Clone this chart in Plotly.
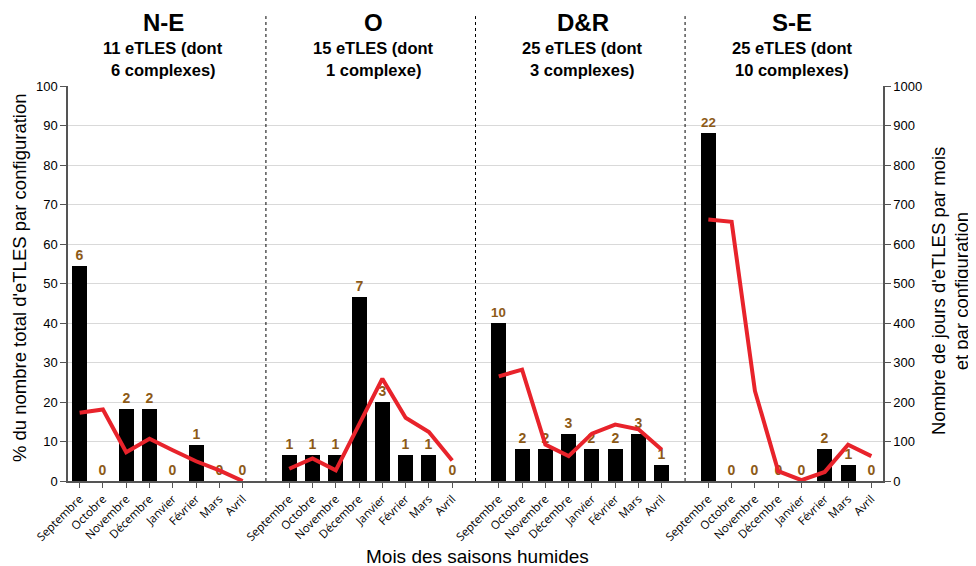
import plotly.graph_objects as go

# ---- data ----
months = ['Septembre', 'Octobre', 'Novembre', 'Décembre', 'Janvier', 'Février', 'Mars', 'Avril']
configs = ['N-E', 'O', 'D&R', 'S-E']
subtitles = [
    ('11 eTLES (dont', '6 complexes)'),
    ('15 eTLES (dont', '1 complexe)'),
    ('25 eTLES (dont', '3 complexes)'),
    ('25 eTLES (dont', '10 complexes)'),
]

# number of eTLES per month (bar labels)
counts_ne = [6, 0, 2, 2, 0, 1, 0, 0]
counts_o = [1, 1, 1, 7, 3, 1, 1, 0]
counts_dr = [10, 2, 2, 3, 2, 2, 3, 1]
counts_se = [22, 0, 0, 0, 0, 2, 1, 0]

# % of total eTLES per configuration (bars, left axis)
pct_ne = [54.5, 0, 18.2, 18.2, 0, 9.1, 0, 0]
pct_o = [6.7, 6.7, 6.7, 46.7, 20.0, 6.7, 6.7, 0]
pct_dr = [40, 8, 8, 12, 8, 8, 12, 4]
pct_se = [88, 0, 0, 0, 0, 8, 4, 0]

# days of eTLES per month (red line, right axis)
days_ne = [173, 181, 73, 107, 78, 50, 27, 0]
days_o = [31, 57, 27, 145, 259, 160, 124, 52]
days_dr = [265, 282, 92, 63, 120, 143, 131, 79]
days_se = [662, 656, 228, 25, 2, 23, 92, 63]

counts = [counts_ne, counts_o, counts_dr, counts_se]
pcts = [pct_ne, pct_o, pct_dr, pct_se]
days = [days_ne, days_o, days_dr, days_se]

BROWN = '#8d5a17'
RED = '#e8232b'
FONT = 'Liberation Sans'
step = len(months) + 1  # one blank slot between configurations


def label(x, y, text, size, xref='x', angle=0):
    fig.add_annotation(x=x, y=y, xref=xref, yref='paper', text=text, textangle=angle,
                       showarrow=False, xanchor='center', yanchor='middle',
                       font=dict(size=size, color='black', family=FONT))


fig = go.Figure()
tickvals, ticktext = [], []
for p in range(len(configs)):
    xs = [p * step + i for i in range(len(months))]
    tickvals += xs
    ticktext += months
    fig.add_trace(go.Bar(
        x=xs, y=pcts[p], text=counts[p], width=0.64,
        marker=dict(color='black', line=dict(width=0)),
        textposition='outside', cliponaxis=False,
        textfont=dict(color=BROWN, size=14, family=FONT, weight='bold'),
        showlegend=False, yaxis='y'))
    fig.add_trace(go.Scatter(
        x=xs, y=days[p], mode='lines', line=dict(color=RED, width=4),
        showlegend=False, yaxis='y2'))

    # dotted separator
    if p > 0:
        fig.add_shape(type='line', xref='x', yref='paper', x0=p * step - 1, x1=p * step - 1,
                      y0=0, y1=1.177, line=dict(color='black', width=1, dash='dot'))

    cx = p * step + 3.6
    label(cx, 1.162, '<b>%s</b>' % configs[p], 24)
    label(cx, 1.096, '<b>%s</b>' % subtitles[p][0], 16.5)
    label(cx, 1.040, '<b>%s</b>' % subtitles[p][1], 16.5)

# axis titles
label(-0.0595, 0.515, "% du nombre total d'eTLES par configuration", 18.5, xref='paper', angle=-90)
label(1.0675, 0.481, "Nombre de jours d'eTLES par mois", 18.5, xref='paper', angle=-90)
label(1.0960, 0.481, "et par configuration", 18.5, xref='paper', angle=-90)
label(0.503, -0.19, 'Mois des saisons humides', 19, xref='paper')

# page body has an 8px default margin, so shift the plot area back by 8px
fig.update_layout(
    width=976, height=566,
    margin=dict(l=60, r=101, t=78, b=93),
    plot_bgcolor='white', paper_bgcolor='white',
    font=dict(family=FONT, color='black'),
    bargap=0,
    xaxis=dict(
        range=[-0.5, len(configs) * step - 1.5], automargin=False,
        tickvals=tickvals, ticktext=ticktext, tickangle=-45,
        tickfont=dict(size=11.5, family='Open Sans'),
        ticks='outside', ticklen=5, tickcolor='#555',
        showline=True, linecolor='#555', linewidth=1.5,
        showgrid=False, zeroline=False,
    ),
    yaxis=dict(
        range=[0, 100], dtick=10, automargin=False,
        ticks='outside', ticklen=6, tickcolor='#555',
        showline=True, linecolor='#555', linewidth=1.5,
        showgrid=True, gridcolor='#d9d9d9', zeroline=False,
        tickfont=dict(size=13),
    ),
    yaxis2=dict(
        range=[0, 1000], dtick=100, overlaying='y', side='right', automargin=False,
        ticks='outside', ticklen=6, tickcolor='#555',
        showline=True, linecolor='#555', linewidth=1.5,
        showgrid=False, zeroline=False,
        tickfont=dict(size=13),
    ),
)

fig.write_html('out.html')
